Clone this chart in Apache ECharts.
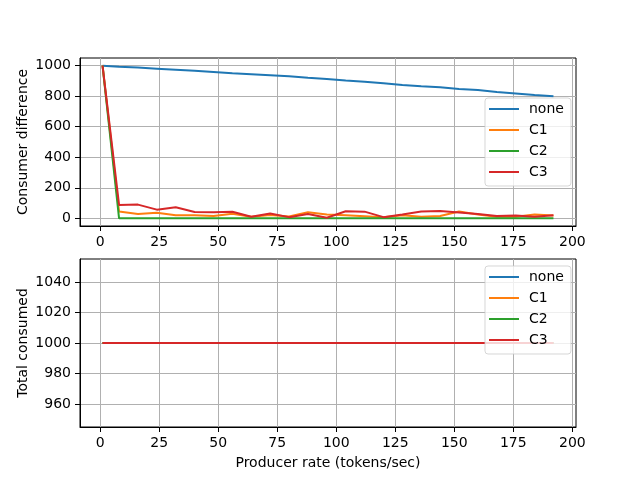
<!DOCTYPE html>
<html>
<head>
<meta charset="utf-8">
<script src="https://cdn.jsdelivr.net/npm/echarts@6/dist/echarts.min.js"></script>
<style>html,body{margin:0;padding:0;background:#fff}#c{width:640px;height:480px}</style>
</head>
<body>
<div id="c"></div>
<script>
var rates = [1, 8, 16, 24, 32, 40, 48, 56, 64, 72, 80, 88, 96, 104, 112, 120, 128, 136, 144, 152, 160, 168, 176, 184, 192];
var diffNone = [1000, 993, 987, 980, 973, 966, 958, 950, 944, 937, 930, 920, 912, 902, 895, 885, 873, 865, 858, 847, 840, 828, 818, 808, 800];
var diffC1 = [1000, 45, 28, 37, 20, 20, 15, 30, 10, 22, 12, 40, 25, 20, 14, 8, 20, 10, 15, 45, 25, 10, 10, 25, 18];
var diffC2 = [1000, 0, 0, 0, 0, 0, 0, 0, 0, 0, 0, 0, 0, 0, 0, 0, 0, 0, 0, 0, 0, 0, 0, 0, 0];
var diffC3 = [1000, 88, 90, 57, 73, 42, 40, 43, 10, 32, 8, 28, 4, 47, 44, 8, 25, 45, 48, 38, 28, 15, 18, 10, 20];
var totNone = [1000, 1000, 1000, 1000, 1000, 1000, 1000, 1000, 1000, 1000, 1000, 1000, 1000, 1000, 1000, 1000, 1000, 1000, 1000, 1000, 1000, 1000, 1000, 1000, 1000];
var totC1 = [1000, 1000, 1000, 1000, 1000, 1000, 1000, 1000, 1000, 1000, 1000, 1000, 1000, 1000, 1000, 1000, 1000, 1000, 1000, 1000, 1000, 1000, 1000, 1000, 1000];
var totC2 = [1000, 1000, 1000, 1000, 1000, 1000, 1000, 1000, 1000, 1000, 1000, 1000, 1000, 1000, 1000, 1000, 1000, 1000, 1000, 1000, 1000, 1000, 1000, 1000, 1000];
var totC3 = [1000, 1000, 1000, 1000, 1000, 1000, 1000, 1000, 1000, 1000, 1000, 1000, 1000, 1000, 1000, 1000, 1000, 1000, 1000, 1000, 1000, 1000, 1000, 1000, 1000];
var names = ['none', 'C1', 'C2', 'C3'];
var colors = ['#1f77b4', '#ff7f0e', '#2ca02c', '#d62728'];
var xTicks = [0, 25, 50, 75, 100, 125, 150, 175, 200];
var yTicksTop = [0, 200, 400, 600, 800, 1000];
var yTicksBottom = [960, 980, 1000, 1020, 1040];

var FONT = 'DejaVu Sans';
function zip(xs, ys) { return xs.map(function (x, i) { return [x, ys[i]]; }); }
function plain(v) { return String(v); }

function xAxis(idx, withName) {
  return {
    type: 'value', gridIndex: idx, min: -8.55, max: 201.55,
    name: withName ? 'Producer rate (tokens/sec)' : '',
    nameLocation: 'middle', nameGap: 29, nameMoveOverlap: false,
    nameTextStyle: { fontFamily: FONT, fontSize: 14, color: '#000' },
    axisLine: { show: true, onZero: false, lineStyle: { color: '#000', width: 1 } },
    axisTick: { show: true, length: 5, lineStyle: { color: '#000', width: 1 }, customValues: xTicks },
    axisLabel: { margin: 9, fontFamily: FONT, fontSize: 14, color: '#000', customValues: xTicks, formatter: plain },
    splitLine: { show: true, lineStyle: { color: '#b0b0b0', width: 1 } }
  };
}
function yAxis(idx, name, min, max, ticks) {
  return {
    type: 'value', gridIndex: idx, min: min, max: max,
    name: name, nameLocation: 'middle', nameGap: 50, nameMoveOverlap: false,
    nameTextStyle: { fontFamily: FONT, fontSize: 14, color: '#000' },
    axisLine: { show: true, onZero: false, lineStyle: { color: '#000', width: 1 } },
    axisTick: { show: true, length: 5, lineStyle: { color: '#000', width: 1 }, customValues: ticks },
    axisLabel: { margin: 9, fontFamily: FONT, fontSize: 14, color: '#000', customValues: ticks, formatter: plain },
    splitLine: { show: true, lineStyle: { color: '#b0b0b0', width: 1 } }
  };
}
function legend(top) {
  return {
    data: names, orient: 'vertical', left: 485, top: top,
    icon: 'rect', itemWidth: 30, itemHeight: 2, itemGap: 5,
    padding: [3, 7, 6, 4],
    backgroundColor: 'rgba(255,255,255,0.8)',
    borderColor: 'rgba(204,204,204,0.8)', borderWidth: 1, borderRadius: 3,
    textStyle: { fontFamily: FONT, fontSize: 14, color: '#000', lineHeight: 16, padding: [0, 0, 0, 5] },
    selectedMode: false
  };
}
var diffs = [diffNone, diffC1, diffC2, diffC3];
var tots = [totNone, totC1, totC2, totC3];
var series = [];
names.forEach(function (n, i) {
  series.push({ name: n, type: 'line', xAxisIndex: 0, yAxisIndex: 0, data: zip(rates, diffs[i]),
    showSymbol: false, symbol: 'none', lineStyle: { width: 2, color: colors[i] }, itemStyle: { color: colors[i] }, animation: false });
});
names.forEach(function (n, i) {
  series.push({ name: n, type: 'line', xAxisIndex: 1, yAxisIndex: 1, data: zip(rates, tots[i]),
    showSymbol: false, symbol: 'none', lineStyle: { width: 2, color: colors[i] }, itemStyle: { color: colors[i] }, animation: false });
});

var chart = echarts.init(document.getElementById('c'), null, { renderer: 'canvas' });
chart.setOption({
  backgroundColor: '#fff',
  animation: false,
  grid: [
    { left: 80, width: 496, top: 58, height: 168, show: true, borderColor: '#000', borderWidth: 1, containLabel: false },
    { left: 80, width: 496, top: 259, height: 168, show: true, borderColor: '#000', borderWidth: 1, containLabel: false }
  ],
  xAxis: [xAxis(0, false), xAxis(1, true)],
  yAxis: [yAxis(0, 'Consumer difference', -50, 1050, yTicksTop), yAxis(1, 'Total consumed', 945, 1055, yTicksBottom)],
  legend: [legend(98), legend(266)],
  series: series
});
</script>
</body>
</html>
